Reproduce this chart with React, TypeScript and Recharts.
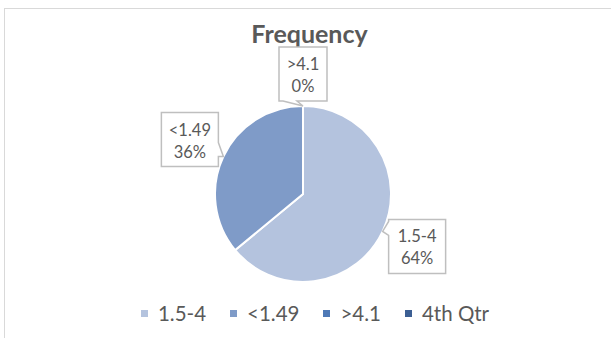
import { PieChart, Pie, Cell, Legend } from "recharts";

const categories = ["1.5-4", "<1.49", ">4.1", "4th Qtr"];
const frequency: (number | null)[] = [64, 36, 0, null];
const sliceColors = ["#B4C3DE", "#7F9BC8", "#4E79B6", "#3C5F93"];

const chartData = categories.map((name, i) => ({ name, value: frequency[i] }));

const RADIAN = Math.PI / 180;
const boxGrey = "#BFBFBF";
const textGrey = "#595959";
const fontFamily = "Lato, 'Open Sans', sans-serif";

const clamp = (v: number, lo: number, hi: number) => Math.min(Math.max(v, lo), hi);

// Excel-style callout: a bordered box with a small wedge pointing at the slice
const renderCallout = (props: any) => {
  const { cx, cy, midAngle, outerRadius, percent, name, value } = props;
  if (value == null) return null;
  const cos = Math.cos(-midAngle * RADIAN);
  const sin = Math.sin(-midAngle * RADIAN);
  const tx = cx + outerRadius * cos;
  const ty = cy + outerRadius * sin;
  const pct = `${Math.round(percent * 100)}%`;
  const w = Math.max(name.length, pct.length) * 9 + 12;
  const h = 54;
  let left: number;
  let top: number;
  let d: string;

  if (Math.abs(cos) > 0.3) {
    left = cos > 0 ? tx + 6 : tx - 5 - w;
    top = sin > 0 ? ty - 12 : ty + 10 - h;
    const right = left + w;
    const bottom = top + h;
    const y1 = clamp(ty - 14, top + 2, bottom - 16);
    const y2 = y1 + 14;
    d =
      cos > 0
        ? `M${left},${top} H${right} V${bottom} H${left} V${y2} L${tx},${ty} L${left},${y1} Z`
        : `M${left},${top} H${right} V${y1} L${tx},${ty} L${right},${y2} V${bottom} H${left} Z`;
  } else {
    left = tx - w / 2;
    top = ty - 5 - h;
    const right = left + w;
    const bottom = top + h;
    const x1 = clamp(tx - 20, left + 2, right - 16);
    const x2 = x1 + 14;
    d = `M${left},${top} H${right} V${bottom} H${x2} L${tx},${ty} L${x1},${bottom} H${left} Z`;
  }

  const mid = left + w / 2;
  return (
    <g>
      <path d={d} fill="#FFFFFF" stroke={boxGrey} strokeWidth={1.5} />
      <text x={mid} y={top + 23} textAnchor="middle" fill={textGrey} fontSize={16.5} fontFamily={fontFamily}>
        {name}
      </text>
      <text x={mid} y={top + 45} textAnchor="middle" fill={textGrey} fontSize={16.5} fontFamily={fontFamily}>
        {pct}
      </text>
    </g>
  );
};

const renderLegend = (props: any) => {
  const items = [...(props.payload ?? [])].sort(
    (a: any, b: any) => categories.indexOf(a.value) - categories.indexOf(b.value)
  );
  return (
    <div
      style={{
        display: "flex",
        justifyContent: "center",
        fontFamily,
        fontSize: 20.5,
        color: textGrey,
        paddingLeft: 14,
      }}
    >
      {items.map((item: any, i: number) => (
        <span
          key={i}
          style={{
            display: "inline-flex",
            alignItems: "center",
            marginRight: i < items.length - 1 ? 24 : 0,
          }}
        >
          <span style={{ width: 7, height: 7, background: item.color, marginRight: 10 }} />
          {item.value}
        </span>
      ))}
    </div>
  );
};

export default function App() {
  return (
    <>
      <style>{`body{margin:0;overflow:hidden;}`}</style>
      <div
        style={{
          position: "relative",
          marginLeft: 4,
          marginTop: 8,
          width: 607,
          height: 330,
          borderTop: "1px solid #D9D9D9",
          borderLeft: "1px solid #D9D9D9",
          boxSizing: "border-box",
          background: "#FFFFFF",
        }}
      >
        <div
          style={{
            position: "absolute",
            left: 0,
            width: 609,
            top: 10,
            textAlign: "center",
            fontFamily,
            fontWeight: 700,
            fontSize: 25,
            lineHeight: "28px",
            color: textGrey,
          }}
        >
          Frequency
        </div>
        <PieChart width={606} height={329} margin={{ top: 0, right: 0, bottom: 0, left: 0 }}>
          <Pie
            data={chartData}
            dataKey="value"
            nameKey="name"
            cx={298}
            cy={185}
            outerRadius={88}
            startAngle={90}
            endAngle={-270}
            stroke="#FFFFFF"
            strokeWidth={2}
            label={renderCallout}
            labelLine={false}
            isAnimationActive={false}
          >
            {chartData.map((entry, i) => (
              <Cell key={entry.name} fill={sliceColors[i]} />
            ))}
          </Pie>
          <Legend verticalAlign="bottom" wrapperStyle={{ bottom: 13 }} content={renderLegend} />
        </PieChart>
      </div>
    </>
  );
}
